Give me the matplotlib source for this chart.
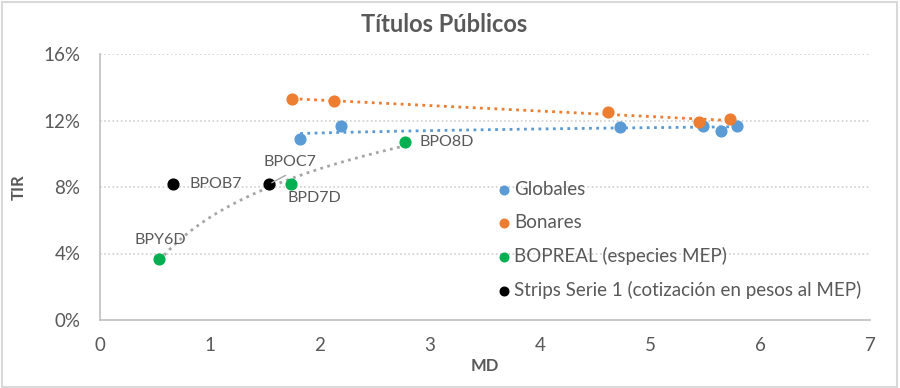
import numpy as np
import matplotlib
matplotlib.use("Agg")
import matplotlib.pyplot as plt
from matplotlib.patches import Rectangle

plt.rcParams['font.family'] = ['Lato', 'DejaVu Sans']

glob_md = [1.82, 2.19, 4.73, 5.48, 5.65, 5.79]
glob_tir = [10.9, 11.65, 11.62, 11.67, 11.38, 11.67]

bon_md = [1.75, 2.13, 4.62, 5.45, 5.73]
bon_tir = [13.3, 13.17, 12.5, 11.9, 12.08]

bop_md = [0.54, 1.74, 2.77]
bop_tir = [3.67, 8.18, 10.71]
bop_lbl = ["BPY6D", "BPD7D", "BPO8D"]

str_md = [0.66, 1.54]
str_tir = [8.18, 8.18]
str_lbl = ["BPOB7", "BPOC7"]

series_names = ["Globales", "Bonares", "BOPREAL (especies MEP)",
                "Strips Serie 1 (cotización en pesos al MEP)"]

blue = "#5b9bd5"
orange = "#ed7d31"
green = "#00b050"
black = "#000000"
txt = "#595959"

fig = plt.figure(figsize=(9, 3.88), dpi=100)
ax = fig.add_axes([100/900, 1-320/388, 770/900, 266/388])

def logfit(x, y, n=200):
    x = np.asarray(x); y = np.asarray(y)
    b, a = np.polyfit(np.log(x), y, 1)
    xs = np.linspace(x.min(), x.max(), n)
    return xs, a + b*np.log(xs)

def linfit(x, y, n=200):
    x = np.asarray(x); y = np.asarray(y)
    b, a = np.polyfit(x, y, 1)
    xs = np.linspace(x.min(), x.max(), n)
    return xs, a + b*xs

xs, ys = logfit(glob_md, glob_tir)
ax.plot(xs, ys, ls=(0, (1, 1.6)), color=blue, lw=2, zorder=2)
xs, ys = linfit(bon_md, bon_tir)
ax.plot(xs, ys, ls=(0, (1, 1.6)), color=orange, lw=2, zorder=2)
xs, ys = logfit(bop_md, bop_tir)
ax.plot(xs, ys, ls=(0, (1, 1.6)), color="#a6a6a6", lw=2, zorder=2)

ax.scatter(glob_md, glob_tir, s=60, color=blue, zorder=3, label=series_names[0])
ax.scatter(bon_md, bon_tir, s=60, color=orange, zorder=3, label=series_names[1])
ax.scatter(bop_md, bop_tir, s=60, color=green, zorder=3, label=series_names[2])
ax.scatter(str_md, str_tir, s=60, color=black, zorder=3, label=series_names[3])

lfs = 11.5
ax.annotate(bop_lbl[0], (bop_md[0], bop_tir[0]), xytext=(-18, 14), textcoords='offset points',
            color=txt, fontsize=lfs, va='center')
ax.annotate(bop_lbl[1], (bop_md[1], bop_tir[1]), xytext=(-3, -10), textcoords='offset points',
            color=txt, fontsize=lfs, va='center')
ax.annotate(bop_lbl[2], (bop_md[2], bop_tir[2]), xytext=(11, 0), textcoords='offset points',
            color=txt, fontsize=lfs, va='center')
ax.annotate(str_lbl[0], (str_md[0], str_tir[0]), xytext=(12, 0), textcoords='offset points',
            color=txt, fontsize=lfs, va='center')
ax.annotate(str_lbl[1], (str_md[1], str_tir[1]), xytext=(-4, 16), textcoords='offset points',
            color=txt, fontsize=lfs, va='center')
ax.annotate("", (str_md[1], str_tir[1]), xytext=(str_md[1]+0.17, str_tir[1]+0.6),
            arrowprops=dict(arrowstyle='-', color='#a6a6a6', lw=1), zorder=4)

ax.set_xlim(0, 7)
ax.set_ylim(0, 16)
ax.set_xticks(range(0, 8))
ax.set_yticks([0, 4, 8, 12, 16])
ax.set_yticklabels([f"{v}%" for v in [0, 4, 8, 12, 16]])
ax.tick_params(length=0, labelsize=13.5, colors=txt)
ax.tick_params(axis='y', pad=14)
ax.tick_params(axis='x', pad=12)
for v in [4, 8, 12, 16]:
    ax.axhline(v, color="#d0d0d0", lw=1.2, ls=(0, (1, 1.5)), zorder=1)
for s in ['top', 'right']:
    ax.spines[s].set_visible(False)
for s in ['left', 'bottom']:
    ax.spines[s].set_color('#bfbfbf')
    ax.spines[s].set_linewidth(1.2)

ax.set_xlabel("MD", fontsize=12, fontweight='bold', color=txt, labelpad=3)
ax.set_ylabel("TIR", fontsize=12, fontweight='bold', color=txt, labelpad=12)
fig.text(0.494, 1-24/388, "Títulos Públicos", ha='center', va='center',
         fontsize=17, fontweight='bold', color=txt)

leg = ax.legend(loc='upper left', bbox_to_anchor=(0.503, 0.551), frameon=False,
                fontsize=13.5, labelcolor=txt, handletextpad=0.02, markerscale=0.8,
                labelspacing=0.85, borderaxespad=0, handlelength=1)

fig.patches.append(Rectangle((0.002, 0.003), 0.995, 0.993, transform=fig.transFigure,
                             fill=False, edgecolor='#d9d9d9', lw=1.5))

fig.savefig("out.png", dpi=100)
